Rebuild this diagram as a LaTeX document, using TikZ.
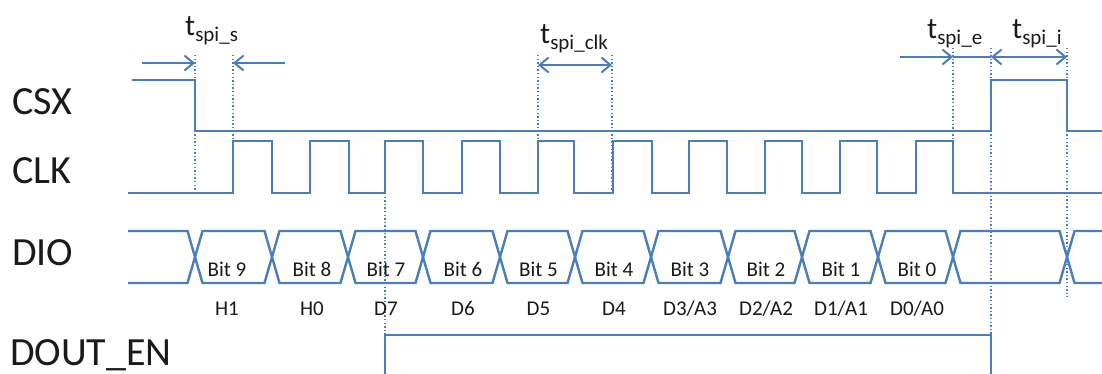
\documentclass[tikz,border=0pt]{standalone}
\usepackage{fontspec}
\setmainfont{Carlito}
\usetikzlibrary{arrows.meta}
\definecolor{sig}{HTML}{4A7EBB}
\definecolor{txt}{HTML}{1A1A1A}
\begin{document}
\begin{tikzpicture}[x=1pt,y=-1pt,
  wave/.style={draw=sig, line width=2.4pt, line join=miter},
  guide/.style={draw=sig, line width=1.4pt, dash pattern=on 1.4pt off 2.2pt},
  dim/.style={draw=sig, line width=2pt},
  barb/.tip={Straight Barb[length=9pt,width=15pt,line width=2pt]},
  big/.style={font=\fontsize{40}{48}\selectfont, text=txt, inner sep=0pt, anchor=base west},
  bitlbl/.style={font=\fontsize{21}{25}\selectfont, text=txt, inner sep=0pt, anchor=base},
  tlbl/.style={font=\fontsize{30}{36}\selectfont, text=txt, inner sep=0pt, anchor=base west},
]
\useasboundingbox (0,0) rectangle (1102,374);
\newcommand{\subsc}[1]{\raisebox{-6pt}{\fontsize{21}{25}\selectfont #1}}

% labels
\node[big] (lcsx) at (12,115) {CSX};
\node[big] (lclk) at (12,183) {CLK};
\node[big] (ldio) at (12,265) {DIO};
\node[big] (lden) at (10,365) {DOUT\_EN};

% timing labels
\node[tlbl] (ts) at (185,36) {t\subsc{spi\_s}};
\node[tlbl] (tc) at (540,44) {t\subsc{spi\_clk}};
\node[tlbl] (te) at (927,39) {t\subsc{spi\_e}};
\node[tlbl] (ti) at (1012,39) {t\subsc{spi\_i}};

% guides
\draw[guide] (195,55) -- (195,193);
\draw[guide] (233,55) -- (233,141);
\draw[guide] (538,55) -- (538,193);
\draw[guide] (612,55) -- (612,193);
\draw[guide] (953,48) -- (953,193);
\draw[guide] (991,48) -- (991,335);
\draw[guide] (1067,48) -- (1067,297);
\draw[guide] (385,193) -- (385,335);

% dimension arrows
\draw[dim,-barb] (142,63) -- (195,63);
\draw[dim,-barb] (285,63) -- (233,63);
\draw[dim,barb-barb] (538,65) -- (612,65);
\draw[dim,-barb] (900,57) -- (953,57);
\draw[dim] (953,57) -- (991,57);
\draw[dim,barb-barb] (991,57) -- (1067,57);

% CSX
\draw[wave] (132,80) -- (195,80) -- (195,131) -- (991,131) -- (991,80) -- (1067,80) -- (1067,131) -- (1102,131);

% CLK
\draw[wave] (128,193)
  \foreach \r/\f in {233/272,310/349,385/423,462/500,538/574,613/652,689/727,765/802,840/877,916/953}
  { -- (\r,193) -- (\r,141) -- (\f,141) -- (\f,193) } -- (1102,193);

% DIO
\draw[wave] (128,231) -- (187.5,231) -- (195,257) -- (187.5,283) -- (128,283);
\foreach \a/\b in {195/272,272/348,348/423,423/500,500/575,575/651,651/728,728/802,802/878,878/953,953/1067}
  \draw[wave] (\a,257) -- (\a+7.5,231) -- (\b-7.5,231) -- (\b,257) -- (\b-7.5,283) -- (\a+7.5,283) -- cycle;
\draw[wave] (1102,231) -- (1074.5,231) -- (1067,257) -- (1074.5,283) -- (1102,283);

\foreach \x/\n/\d in {227/9/H1,312/8/H0,386/7/D7,463/6/D6,538.5/5/D5,614/4/D4,690/3/{D3/A3},766/2/{D2/A2},841/1/{D1/A1},917/0/{D0/A0}}
{
  \node[bitlbl] (bit\n) at (\x,276) {Bit \n};
  \node[bitlbl] (sub\n) at (\x,315) {\d};
}

% DOUT_EN
\draw[wave] (385,374) -- (385,335) -- (991,335) -- (991,374);
\end{tikzpicture}
\end{document}
